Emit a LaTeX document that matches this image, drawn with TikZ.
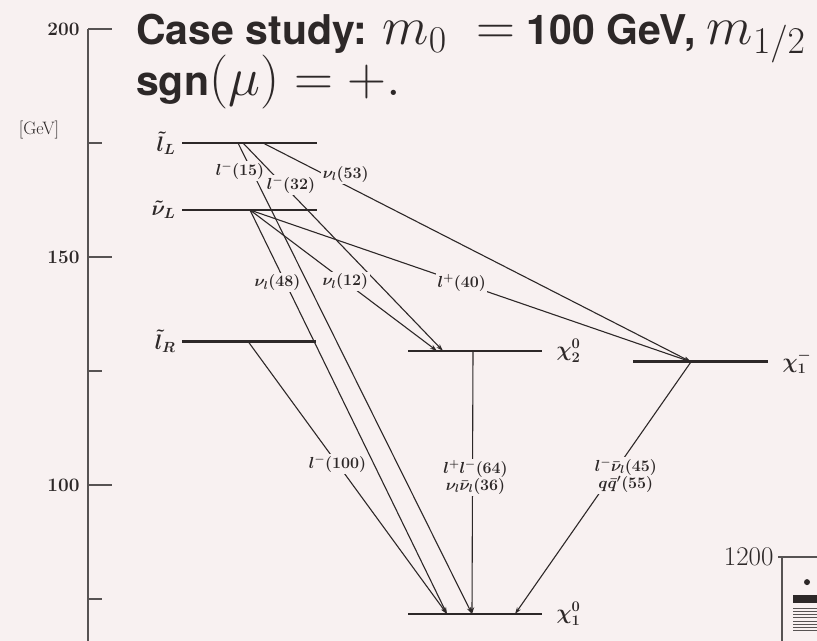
\documentclass[tikz,border=0pt]{standalone}
\usepackage{fix-cm}
\usepackage{amsmath,amssymb}
\usepackage{fontspec}
\usepackage{tikz}
\usetikzlibrary{positioning,arrows.meta}

\newfontfamily\headfont{TeX Gyre Heros}
\newcommand{\bigmath}{\fontsize{54}{58}\selectfont}
\definecolor{paper}{RGB}{248,241,241}
\definecolor{ink}{RGB}{45,40,40}

\begin{document}
\begin{tikzpicture}[
    x=1pt, y=4.56pt,
    >={Stealth[length=7pt,width=4.5pt]},
    level/.style={draw=ink, line width=2.8pt},
    decay/.style={->, draw=ink, line width=1.1pt},
    axisline/.style={draw=ink!80, line width=1.1pt},
    brlabel/.style={fill=paper, inner sep=1.5pt, text=ink, font=\fontsize{16}{17}\selectfont\boldmath},
    statelabel/.style={text=ink, font=\fontsize{21}{22}\selectfont\boldmath},
    ticklabel/.style={text=ink, anchor=east, font=\fontsize{19}{20}\selectfont\bfseries},
    headline/.style={text=ink, anchor=base west, inner sep=0pt, font=\headfont\bfseries\fontsize{41}{44}\selectfont}
]
    \fill[paper] (0,65.79) rectangle (817,206.36);
    \useasboundingbox (0,65.79) rectangle (817,206.36);

    % mass axis, y in GeV
    \draw[axisline] (88,200) -- (88,65.79);
    \foreach \m in {200,150,100} {
        \draw[axisline] (88,\m) -- (112,\m);
        \node[ticklabel] (tick\m) at (83,\m) {\m};
    }
    \foreach \m in {175,125,75}
        \draw[axisline] (88,\m) -- (102,\m);
    \node[text=ink, font=\fontsize{18}{19}\selectfont] (unit) at (39,177.9) {[GeV]};

    % title
    \node[headline] (title1) at (136,196.7)
        {Case study: {\bigmath$m_0\;=$} 100 GeV, {\bigmath$m_{1/2}$}};
    \node[headline] (title2) at (136,185.5)
        {sgn{\bigmath$(\mu)=+.$}};

    % mass levels
    \draw[level] (182,175)   coordinate (lL-w) -- (317,175)   coordinate (lL-e);
    \draw[level] (182,160.3) coordinate (nL-w) -- (317,160.3) coordinate (nL-e);
    \draw[level] (182,131.5) coordinate (lR-w) -- (316,131.5) coordinate (lR-e);
    \draw[level] (408,129.4) coordinate (n2-w) -- (542,129.4) coordinate (n2-e);
    \draw[level] (633,127)   coordinate (c1-w) -- (768,127)   coordinate (c1-e);
    \draw[level] (408,71.7)  coordinate (n1-w) -- (542,71.7)  coordinate (n1-e);

    \node[statelabel, left=3pt of lL-w]  (lL) {$\tilde{l}_L$};
    \node[statelabel, left=3pt of nL-w]  (nL) {$\tilde{\nu}_L$};
    \node[statelabel, left=3pt of lR-w]  (lR) {$\tilde{l}_R$};
    \node[statelabel, right=11pt of n2-e] (n2) {$\chi^0_2$};
    \node[statelabel, right=11pt of c1-e] (c1) {$\chi^-_1$};
    \node[statelabel, right=11pt of n1-e] (n1) {$\chi^0_1$};

    % decay end points on the levels
    \coordinate (lL-a) at (238,175);
    \coordinate (lL-b) at (243,175);
    \coordinate (lL-c) at (263,175);
    \coordinate (nL-a) at (250,160.3);
    \coordinate (lR-a) at (248,131.5);
    \coordinate (n2-in-a) at (437,129.4);
    \coordinate (n2-in-b) at (443,129.4);
    \coordinate (n2-out)  at (473,129.4);
    \coordinate (c1-in)   at (691,127);
    \coordinate (n1-in-a) at (447,71.7);
    \coordinate (n1-in-b) at (472,71.7);
    \coordinate (n1-in-c) at (515,71.7);

    \path (lL-a) edge[decay] node[brlabel, pos=.06, xshift=-12pt] {$l^-(15)$} (n1-in-b)
          (lL-b) edge[decay] node[brlabel, pos=.2, xshift=8pt] {$l^-(32)$} (n2-in-b)
          (lL-c) edge[decay] node[brlabel, pos=.17, xshift=10pt, yshift=6pt] {$\nu_l(53)$} (c1-in)
          (nL-a) edge[decay] node[brlabel, pos=.18, xshift=-8pt] {$\nu_l(48)$} (n1-in-a)
          (nL-a) edge[decay] node[brlabel, pos=.51] {$\nu_l(12)$} (n2-in-a)
          (nL-a) edge[decay] node[brlabel, pos=.48] {$l^+(40)$} (c1-in)
          (lR-a) edge[decay] node[brlabel, pos=.45] {$l^-(100)$} (n1-in-a)
          (n2-out) edge[decay] node[brlabel, pos=.48, xshift=3pt, align=center] {$l^+l^-(64)$\\$\nu_l\bar{\nu}_l(36)$} (n1-in-b)
          (c1-in) edge[decay] node[brlabel, pos=.45, xshift=14pt, align=center] {$l^-\bar{\nu}_l(45)$\\$q\bar{q}'(55)$} (n1-in-c);

    % corner of the next plot
    \node[text=ink, anchor=east, font=\fontsize{27}{28}\selectfont] (ymax) at (777,84.2) {1200};
    \draw[axisline] (778,84.2) -- (817,84.2);
    \draw[axisline] (782,84.2) -- (782,65.79);
    \fill[ink] (807,78.7) circle (3pt);
    \fill[ink] (793,75.9) rectangle (817,74.1);
    \foreach \yy in {73.0,72.3,...,67.5}
        \draw[ink!80, line width=0.6pt] (793,\yy) -- (817,\yy);
\end{tikzpicture}
\end{document}
